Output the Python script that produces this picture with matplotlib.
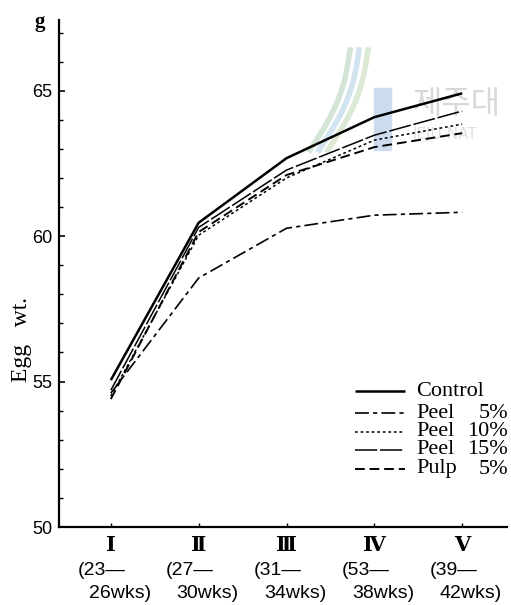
import matplotlib
matplotlib.use("Agg")
import matplotlib.pyplot as plt
from matplotlib.lines import Line2D
from matplotlib.patches import Rectangle
import numpy as np

# periods on the x axis
periods = ["\u2160", "\u2161", "\u2162", "\u2163", "\u2164"]
weeks_top = ["(23\u2014", "(27\u2014", "(31\u2014", "(53\u2014", "(39\u2014"]
weeks_bottom = ["26wks)", "30wks)", "34wks)", "38wks)", "42wks)"]

# egg weight (g)
control = [55.05, 60.46, 62.68, 64.09, 64.91]
peel_5 = [54.6, 58.56, 60.27, 60.72, 60.82]
peel_10 = [54.5, 60.03, 62.0, 63.3, 63.85]
peel_15 = [54.7, 60.3, 62.27, 63.47, 64.3]
pulp_5 = [54.4, 60.14, 62.1, 63.06, 63.54]

labels = ["Control", "Peel 5%", "Peel 10%", "Peel 15%", "Pulp 5%"]
series = [control, peel_5, peel_10, peel_15, pulp_5]

plt.rcParams['lines.scale_dashes'] = False
styles = [
    dict(ls="-", lw=1.8),
    dict(ls=(0, (10, 3, 3, 3)), lw=1.2),
    dict(ls=(0, (2, 2)), lw=1.1),
    dict(ls=(0, (16, 2)), lw=1.1),
    dict(ls=(0, (7, 3.5)), lw=1.4),
]

W, H = 511, 605
fig = plt.figure(figsize=(W / 100, H / 100), dpi=100)
ax = fig.add_axes([59 / W, 1 - 527 / H, (507 - 59) / W, (527 - 20) / H])
ax.patch.set_alpha(0)

# faint watermark behind the chart
t = np.linspace(0, 1, 50)
for dx, col in [(0, "#d3e6d6"), (9, "#d2e4f0"), (18, "#dce9d4")]:
    xs = (350 + dx - 40 * t + 8 * np.sin(t * np.pi)) / W
    ys = 1 - (50 + 100 * t) / H
    fig.add_artist(Line2D(xs, ys, transform=fig.transFigure, color=col, lw=4,
                          zorder=-2))
fig.patches.append(Rectangle((374 / W, 1 - 150 / H), 17 / W, 62 / H,
                             transform=fig.transFigure, color="#cddbee", zorder=-2))
fig.text(413 / W, 1 - 104 / H, "\uc81c\uc8fc\ub300", family="Noto Sans CJK KR",
         fontsize=23, color="#d8d8d8", va="center", ha="left", zorder=-1)
fig.text(413 / W, 1 - 135 / H, "JEJU NAT", family="DejaVu Sans",
         fontsize=11, color="#e0e0e0", va="center", ha="left", zorder=-1)

x = np.arange(len(periods))
for vals, st in zip(series, styles):
    ax.plot(x, vals, color="black", solid_capstyle="butt", dash_capstyle="butt", **st)

ax.set_xlim(-0.59, 4.51)
ax.set_ylim(50, 67.43)
ax.set_yticks([50, 55, 60, 65])
ax.set_yticks(np.arange(50, 68, 1), minor=True)
ax.set_xticks(x)
ax.set_xticklabels([])
ax.tick_params(axis="y", which="major", direction="in", length=4, width=1.2, pad=5,
               labelsize=13, labelfontfamily="Liberation Sans")
ax.tick_params(axis="y", which="minor", direction="in", length=3, width=1.0)
ax.tick_params(axis="x", direction="in", length=3, width=1.0)

for s in ["top", "right"]:
    ax.spines[s].set_visible(False)
for s in ["left", "bottom"]:
    ax.spines[s].set_linewidth(1.6)

tr = ax.get_xaxis_transform()
for i in range(len(periods)):
    ax.text(i, -0.036, periods[i], transform=tr, ha="center", va="center",
            fontsize=15, fontweight="bold", family=["DejaVu Serif", "DejaVu Sans"])
    ax.text(i - 0.1, -0.085, weeks_top[i], transform=tr, ha="center", va="center",
            fontsize=14, family="Liberation Sans")
    ax.text(i + 0.1, -0.131, weeks_bottom[i], transform=tr, ha="center", va="center",
            fontsize=14, family="Liberation Sans")

fig.text(40 / W, 1 - 22 / H, "g", family="Liberation Serif", fontweight="bold",
         fontsize=15, ha="center", va="center")
fig.text(22 / W, 1 - 340 / H, "Egg   wt.", family="Liberation Serif", fontsize=17,
         rotation=90, ha="center", va="center")

# hand-built legend so the percentages line up on the right
rows = [391, 413, 432, 450, 469]
for lab, st, ry in zip(labels, styles, rows):
    yf = 1 - ry / H
    fig.add_artist(Line2D([355 / W, 405 / W], [yf, yf], transform=fig.transFigure,
                          color="black", dash_capstyle="butt", solid_capstyle="butt", **st))
    parts = lab.split(" ")
    fig.text(416 / W, yf, parts[0], family="Liberation Serif", fontsize=16,
             ha="left", va="center")
    if len(parts) > 1:
        fig.text(508 / W, yf, parts[1], family="Liberation Serif", fontsize=16,
                 ha="right", va="center")

fig.savefig("out.png", dpi=100)
